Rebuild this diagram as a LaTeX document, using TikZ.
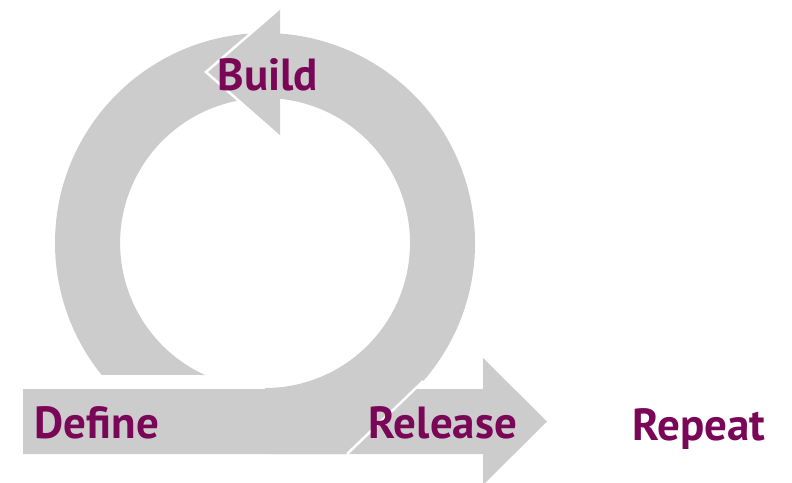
\documentclass[tikz,border=0pt]{standalone}
\usepackage{fontspec}
\setmainfont{PT Sans}
\usepackage{tikz}

\definecolor{loopgrey}{RGB}{204,204,204}
\definecolor{plum}{RGB}{122,6,88}

\begin{document}
\begin{tikzpicture}[x=1pt, y=-1pt,
band/.style={fill=loopgrey, draw=none},
gap/.style={draw=white, line width=2.5pt},
lbl/.style={font=\fontsize{45}{54}\selectfont\bfseries, text=plum, inner sep=0pt, anchor=base}]
\useasboundingbox (0,0) rectangle (792,482);
% straight arrow along the bottom
\fill[band] (23,389) -- (483,389) -- (483,358) -- (547,421.5) -- (483,485) -- (483,454) -- (23,454) -- cycle;
% loop, left half (tail)
\fill[band] (265,33) arc[start angle=270, end angle=141.1, radius=210] -- (205,375)
  arc[start angle=114.5, end angle=270, radius=145] -- cycle;
% loop, right half with the head on top
\fill[band] (347,454) -- (423.5,380.8) arc[start angle=41, end angle=-85.9, radius=210]
  -- (280,8) -- (206,72) -- (280,137) -- (280,98.8)
  arc[start angle=-84.06, end angle=90, radius=145] -- (265,454) -- cycle;
\draw[gap] (347,454) -- (423.5,380.8);
\draw[gap] (280,8) -- (206,72) -- (280,137);
% labels
\node[lbl] (build) at (268,90) {Build};
\node[lbl] (define) at (97,438) {Define};
\node[lbl] (release) at (443,438) {Release};
\node[lbl] (repeat) at (699,440) {Repeat};
\end{tikzpicture}
\end{document}
